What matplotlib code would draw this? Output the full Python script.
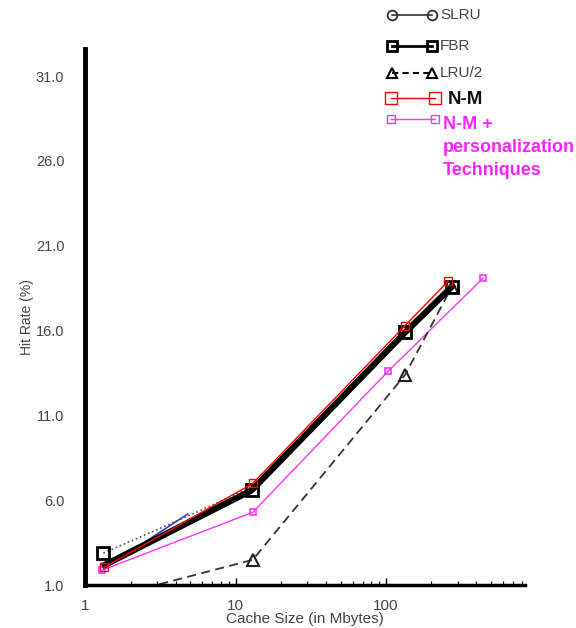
import numpy as np
import matplotlib
matplotlib.use("Agg")
import matplotlib.pyplot as plt
from matplotlib.lines import Line2D
from matplotlib.ticker import FixedLocator, NullFormatter

plt.rcParams['font.family'] = ['Liberation Sans', 'DejaVu Sans']

# data (cache size in MB, hit rate in %)
slru_x = [1.32, 4.9, 12.8, 134, 280]
slru_y = [2.9, 5.1, 6.8, 16.0, 18.7]
fbr_x = [1.35, 12.8, 134, 275]
fbr_y = [2.2, 6.6, 15.9, 18.6]
lru2_x = [1.32, 13.0, 134, 275]
lru2_y = [0.2, 2.5, 13.4, 18.6]
nm_x = [1.33, 13.0, 134, 258]
nm_y = [2.05, 7.0, 16.3, 18.9]
nmp_x = [1.3, 13.0, 103, 443]
nmp_y = [1.9, 5.3, 13.6, 19.1]
blue_x = [1.35, 4.8]
blue_y = [2.0, 5.2]

y_ticks = [1.0, 6.0, 11.0, 16.0, 21.0, 26.0, 31.0]
x_ticks = [1, 10, 100]

gray = '#444444'

fig = plt.figure(figsize=(5.76, 6.28), dpi=100)
ax = fig.add_axes([0.148, 0.068, 0.764, 0.854])

ax.plot(blue_x, blue_y, color='#2a3fd0', lw=1.2)
ax.plot(slru_x, slru_y, color='#555555', lw=1.2, ls=':')
ax.plot(nmp_x, nmp_y, color='#ff33ff', lw=1.0, marker='s', ms=5,
        mfc='none', mec='#ff33ff', mew=1.2)
ax.plot(lru2_x, lru2_y, color='#333333', lw=1.3, ls=(0, (5, 3)),
        marker='^', ms=9, mfc='none', mec='#222222', mew=1.5)
ax.plot(fbr_x, fbr_y, color='black', lw=4.5)
ax.plot(fbr_x[1:], fbr_y[1:], ls='none', marker='s', ms=8, mfc='none',
        mec='black', mew=2)
ax.plot([slru_x[0]], [slru_y[0]], ls='none', marker='s', ms=8, mfc='none',
        mec='black', mew=2)
ax.plot(nm_x, nm_y, color='red', lw=1.0, marker='s', ms=6, mfc='none',
        mec='red', mew=1.0)

ax.set_xscale('log')
ax.set_xlim(1, 845)
ax.set_ylim(1, 32.6)

for s in ['top', 'right']:
    ax.spines[s].set_visible(False)
ax.spines['left'].set_linewidth(3.5)
ax.spines['bottom'].set_linewidth(2.5)

ax.set_yticks(y_ticks)
ax.set_yticklabels([f'{v:.1f}' for v in y_ticks])
ax.tick_params(axis='y', length=0, pad=15, labelsize=10.5, labelcolor=gray)
ax.xaxis.set_major_locator(FixedLocator(x_ticks))
ax.set_xticklabels([str(v) for v in x_ticks])
ax.xaxis.set_minor_formatter(NullFormatter())
ax.tick_params(axis='x', which='major', direction='in', length=5, width=1,
               labelsize=11, labelcolor=gray, pad=10)
ax.tick_params(axis='x', which='minor', direction='in', length=3, width=0.8)

ax.set_xlabel('Cache Size (in Mbytes)', fontsize=11, color=gray)
ax.xaxis.set_label_coords(0.5, -0.05)
ax.set_ylabel('Hit Rate (%)', fontsize=10, color=gray)
ax.yaxis.set_label_coords(-0.116, 0.5)

# legend drawn in figure pixel coordinates
W, H = 576, 628


def fx(px):
    return px / W


def fy(py):
    return 1 - py / H


def leg_row(y, x0, x1, **kw):
    fig.add_artist(Line2D([fx(x0), fx(x1)], [fy(y), fy(y)],
                          transform=fig.transFigure, **kw))


leg_row(15, 392, 432, color='#333333', lw=1.2, marker='o', ms=7,
        mfc='none', mec='#333333', mew=1.3)
fig.text(fx(440), fy(15), 'SLRU', fontsize=11, color=gray, va='center')
leg_row(46, 392, 432, color='black', lw=2, marker='s', ms=7,
        mfc='none', mec='black', mew=2)
fig.text(fx(440), fy(46), 'FBR', fontsize=11, color=gray, va='center')
leg_row(73, 392, 432, color='black', lw=1.5, ls=(0, (3, 2)), marker='^',
        ms=7, mfc='none', mec='black', mew=1.5)
fig.text(fx(440), fy(73), 'LRU/2', fontsize=11, color=gray, va='center')
leg_row(98, 391, 435, color='red', lw=1.0, marker='s', ms=8,
        mfc='none', mec='red', mew=1.0)
fig.text(fx(448), fy(99), 'N-M', fontsize=13.5, color='#111111',
         fontweight='bold', va='center')
leg_row(119, 391, 435, color='#ff33ff', lw=1.0, marker='s', ms=6,
        mfc='none', mec='#ff33ff', mew=1.0)
fig.text(fx(443), fy(116), 'N-M +\npersonalization\nTechniques', fontsize=13,
         color='#ff22ff', fontweight='bold', va='top', linespacing=1.45)

fig.savefig('out.png', dpi=100)
